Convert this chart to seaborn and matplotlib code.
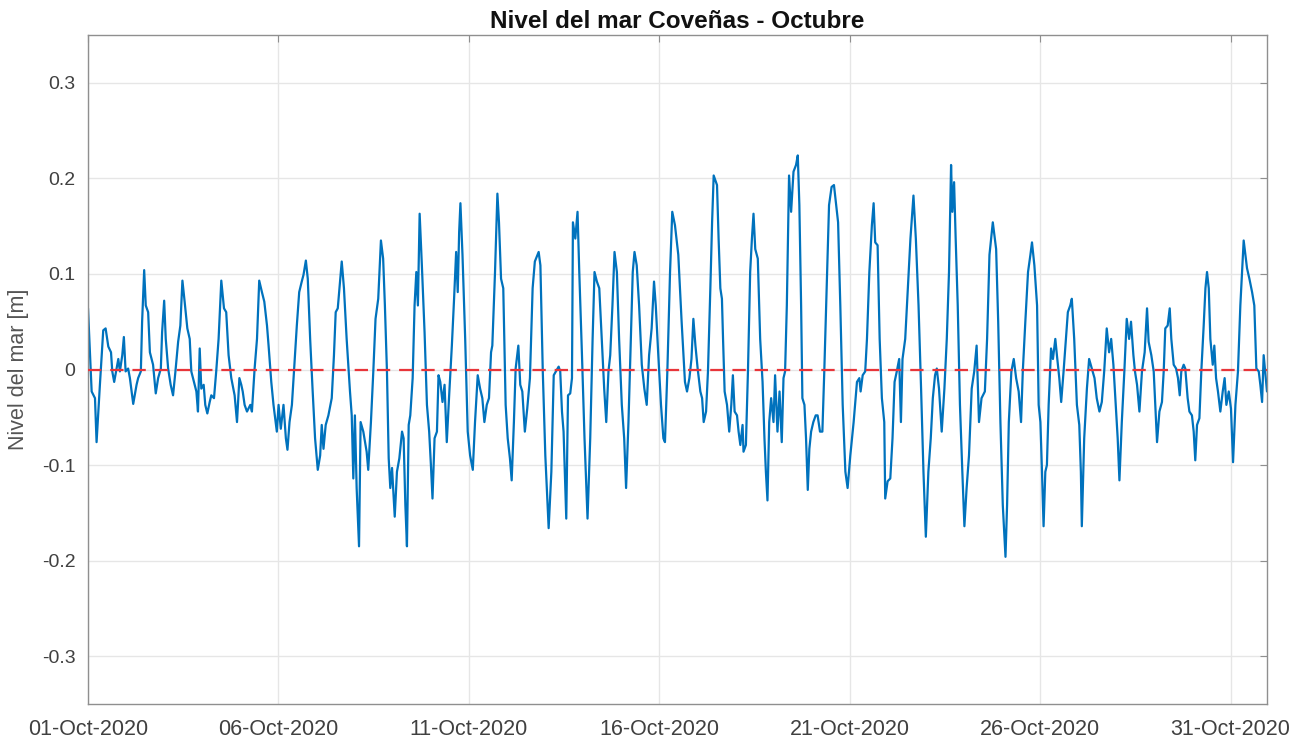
import numpy as np
import pandas as pd
import matplotlib
matplotlib.use("Agg")
import matplotlib.pyplot as plt
import matplotlib.dates as mdates
import seaborn as sns

# ---------------- data ----------------
start_date = "2020-10-01 00:00"
end_date = "2020-10-31 23:00"
tick_dates = ["2020-10-01", "2020-10-06", "2020-10-11", "2020-10-16",
              "2020-10-21", "2020-10-26", "2020-10-31"]
title_text = "Nivel del mar Coveñas - Octubre"
ylabel_text = "Nivel del mar [m]"
y_ticks = [-0.3, -0.2, -0.1, 0, 0.1, 0.2, 0.3]
y_tick_labels = ["-0.3", "-0.2", "-0.1", "0", "0.1", "0.2", "0.3"]
zero_level = 0.0

# hours since 01-Oct-2020 00:00
hours_w1 = [0.0, 2.3, 4.4, 5.4, 7.5, 9.6, 11.1, 12.8, 14.5, 15.3, 16.5, 18.0, 19.1, 20.1, 21.6,
            22.6, 23.7, 25.3, 26.4, 28.5, 30.6, 31.6, 33.3, 34.1, 35.4, 36.4, 37.9, 39.0, 41.0, 42.7,
            44.2, 45.9, 46.7, 48.0, 49.0, 50.5, 52.1, 53.6, 55.1, 56.8, 58.2, 59.5, 60.9, 62.6, 64.1,
            65.1, 66.8, 68.3, 69.3, 70.4, 71.4, 72.9, 73.9, 75.2, 76.7, 77.7, 79.4, 80.8, 82.3, 84.0,
            85.7, 87.1, 88.6, 90.3, 92.4]
level_w1 = [0.064, -0.023, -0.030, -0.076, -0.016, 0.041, 0.043, 0.024, 0.018, -0.002, -0.013, 0.001,
            0.011, -0.002, 0.015, 0.034, -0.002, 0.001, -0.009, -0.036, -0.016, -0.009, -0.002, 0.050,
            0.104, 0.067, 0.060, 0.018, 0.005, -0.025, -0.009, 0.001, 0.039, 0.072, 0.032, 0.001,
            -0.016, -0.027, -0.002, 0.029, 0.046, 0.093, 0.071, 0.043, 0.032, -0.002, -0.013, -0.023,
            -0.044, 0.022, -0.020, -0.016, -0.037, -0.046, -0.034, -0.027, -0.030, -0.002, 0.032,
            0.093, 0.064, 0.060, 0.015, -0.009, -0.027]

hours_w2 = [93.9, 95.4, 96.6, 97.5, 98.7, 100.2, 102.3, 103.3, 105.0, 106.5, 107.9, 109.6, 111.1,
            112.8, 113.8, 115.5, 116.9, 119.0, 120.1, 121.5, 123.2, 124.7, 125.7, 127.0, 128.5,
            130.1, 131.6, 133.1, 134.7, 135.8, 137.3, 138.5, 140.0, 141.5, 143.1, 144.8, 146.3,
            147.3, 148.4, 149.8, 151.5, 153.6, 155.0, 156.1, 157.4, 158.8, 159.9, 161.3, 163.0,
            165.1, 166.2, 167.2, 168.2, 169.3, 170.8, 171.8, 173.5, 175.6, 176.6, 178.3, 179.8,
            181.2, 182.9, 184.6, 186.0, 187.1]
level_w2 = [-0.055, -0.009, -0.016, -0.023, -0.037, -0.044, -0.037, -0.044, 0.001, 0.032, 0.093,
            0.081, 0.071, 0.046, 0.025, -0.013, -0.037, -0.065, -0.037, -0.062, -0.037, -0.072,
            -0.084, -0.055, -0.037, 0.005, 0.046, 0.081, 0.092, 0.099, 0.114, 0.095, 0.032, -0.020,
            -0.072, -0.105, -0.090, -0.058, -0.083, -0.058, -0.048, -0.030, 0.015, 0.060, 0.064,
            0.092, 0.113, 0.085, 0.032, -0.023, -0.048, -0.114, -0.048, -0.124, -0.185, -0.055,
            -0.065, -0.086, -0.105, -0.055, -0.002, 0.053, 0.074, 0.135, 0.116, 0.067]

hours_w3 = [188.4, 189.5, 190.5, 191.6, 193.3, 194.7, 196.2, 197.9, 198.9, 200.0, 201.0, 202.1,
            203.1, 204.6, 205.8, 206.9, 207.9, 209.0, 210.4, 212.1, 213.6, 215.0, 216.1, 217.1,
            218.4, 219.9, 220.9, 222.0, 223.4, 224.7, 226.1, 227.6, 229.3, 230.7, 232.0, 233.0,
            233.9, 234.7, 236.0, 237.7, 239.3, 240.8, 242.5, 243.9, 245.6, 247.1, 248.5, 249.8,
            251.3, 252.7, 254.0, 254.8, 256.5, 258.0, 259.0, 260.3, 261.7, 263.2, 264.5, 265.9,
            267.0, 268.4, 269.5, 271.2, 272.4, 273.7, 275.3, 276.8, 278.5, 280.2, 281.6]
level_w3 = [-0.002, -0.093, -0.124, -0.103, -0.154, -0.107, -0.093, -0.065, -0.072, -0.142, -0.185,
            -0.058, -0.048, -0.009, 0.067, 0.102, 0.067, 0.163, 0.109, 0.039, -0.037, -0.065, -0.100,
            -0.135, -0.072, -0.065, -0.006, -0.013, -0.034, -0.016, -0.076, -0.027, 0.025, 0.074,
            0.123, 0.081, 0.144, 0.174, 0.120, 0.032, -0.065, -0.090, -0.105, -0.055, -0.006,
            -0.020, -0.030, -0.055, -0.037, -0.030, 0.018, 0.025, 0.102, 0.184, 0.154, 0.095, 0.085,
            -0.037, -0.072, -0.093, -0.116, -0.055, 0.001, 0.025, -0.016, -0.023, -0.065, -0.041,
            -0.009, 0.085, 0.113]

hours_w4 = [284.0, 285.1, 286.6, 288.2, 290.3, 292.0, 293.5, 294.9, 296.6, 297.6, 298.7, 299.7,
            301.4, 302.5, 303.9, 305.0, 305.6, 307.1, 308.5, 309.6, 311.3, 312.9, 314.8, 316.5,
            318.0, 319.2, 320.7, 322.2, 323.8, 325.3, 326.6, 328.0, 329.1, 330.5, 331.8, 333.3,
            334.7, 336.4, 337.9, 339.1, 340.6, 342.1, 343.3, 344.4, 345.8, 347.3, 349.0, 350.6,
            352.1, 353.6, 355.2, 356.7, 357.8, 359.4, 361.1, 362.6, 363.6, 365.1, 366.8, 368.2,
            369.9, 372.0, 374.1, 376.2]
level_w4 = [0.123, 0.109, -0.002, -0.090, -0.166, -0.107, -0.006, -0.002, 0.003, -0.002, -0.044,
            -0.065, -0.156, -0.027, -0.025, -0.009, 0.154, 0.137, 0.165, 0.102, 0.015, -0.072,
            -0.156, -0.072, 0.032, 0.102, 0.092, 0.085, 0.032, -0.020, -0.055, -0.002, 0.015, 0.067,
            0.123, 0.102, 0.032, -0.037, -0.072, -0.124, -0.055, 0.032, 0.102, 0.123, 0.109, 0.067,
            0.005, -0.020, -0.037, 0.015, 0.043, 0.092, 0.067, 0.015, -0.037, -0.072, -0.076,
            -0.002, 0.102, 0.165, 0.151, 0.120, 0.050, -0.013]

hours_w5 = [377.5, 379.0, 380.3, 381.5, 382.8, 384.2, 385.9, 387.0, 388.0, 389.5, 390.7, 392.2,
            393.3, 394.3, 396.4, 397.4, 398.5, 399.5, 400.2, 401.2, 402.7, 404.1, 405.4, 406.4,
            407.5, 409.0, 410.0, 411.1, 412.5, 413.1, 414.6, 415.9, 417.3, 418.4, 419.4, 420.5,
            422.1, 423.6, 425.1, 426.3, 427.2, 428.2, 429.3, 430.5, 432.0, 433.0, 434.5, 435.8,
            437.2, 438.3, 439.3, 440.4, 441.8, 443.1, 444.6, 446.2, 447.3, 448.3, 449.4, 450.2,
            451.5, 452.5, 453.6, 454.6, 455.7, 457.1, 458.6, 459.8, 461.3, 462.8, 464.0, 465.5,
            467.0, 468.6, 470.1]
level_w5 = [-0.023, -0.009, 0.011, 0.053, 0.025, 0.001, -0.023, -0.030, -0.055, -0.044, -0.002,
            0.085, 0.154, 0.203, 0.193, 0.137, 0.085, 0.074, 0.032, -0.023, -0.037, -0.065, -0.037,
            -0.006, -0.044, -0.048, -0.065, -0.079, -0.058, -0.086, -0.079, -0.002, 0.102, 0.137,
            0.163, 0.126, 0.116, 0.032, -0.013, -0.072, -0.107, -0.137, -0.055, -0.030, -0.055,
            -0.006, -0.065, -0.023, -0.076, -0.009, -0.002, 0.067, 0.203, 0.165, 0.207, 0.214,
            0.224, 0.172, 0.067, -0.030, -0.037, -0.072, -0.126, -0.083, -0.065, -0.055, -0.048,
            -0.048, -0.065, -0.065, -0.002, 0.085, 0.172, 0.191, 0.193]

hours_w6 = [472.7, 474.1, 475.6, 477.3, 478.7, 480.4, 482.5, 484.6, 486.1, 486.9, 488.2, 489.8,
            490.9, 492.4, 494.0, 495.1, 496.1, 497.6, 498.9, 500.3, 501.8, 502.4, 503.9, 505.6,
            507.0, 508.3, 509.7, 511.2, 512.3, 513.3, 515.0, 516.7, 518.3, 520.2, 521.7, 523.4,
            525.0, 526.5, 528.0, 529.6, 531.1, 532.4, 533.8, 534.9, 536.3, 538.0, 539.7, 541.2,
            542.6, 543.9, 544.7, 545.8, 546.8, 548.1, 549.5, 551.0, 552.3, 553.7, 555.2, 556.9,
            558.5, 560.0, 561.5, 563.1, 565.2]
level_w6 = [0.154, 0.067, -0.037, -0.107, -0.124, -0.090, -0.055, -0.013, -0.009, -0.023, -0.006,
            -0.002, 0.032, 0.102, 0.151, 0.174, 0.133, 0.130, 0.032, -0.030, -0.055, -0.135, -0.117,
            -0.114, -0.072, -0.013, -0.002, 0.011, -0.055, 0.011, 0.032, 0.085, 0.137, 0.182, 0.137,
            0.067, -0.020, -0.107, -0.175, -0.107, -0.072, -0.030, -0.006, 0.001, -0.020, -0.065,
            -0.020, 0.032, 0.102, 0.214, 0.165, 0.196, 0.137, 0.067, -0.037, -0.107, -0.164,
            -0.124, -0.090, -0.020, -0.002, 0.025, -0.055, -0.030, -0.023]

hours_w7 = [566.6, 568.1, 570.2, 572.3, 573.6, 575.0, 576.5, 578.2, 579.2, 580.3, 581.9, 583.4,
            584.9, 586.5, 588.0, 589.1, 590.7, 592.4, 593.9, 594.9, 596.4, 598.1, 599.1, 600.2,
            601.2, 602.2, 603.3, 604.3, 605.4, 606.9, 608.1, 609.6, 610.6, 612.1, 613.3, 614.8,
            616.3, 617.5, 619.0, 620.0, 621.5, 623.2, 624.7, 625.7, 626.3, 627.8, 629.5, 630.9,
            632.6, 634.3, 635.7, 637.4, 638.9, 640.4, 642.0, 643.5, 644.8, 646.2, 647.7, 648.9,
            650.0, 651.5, 653.1, 654.6, 656.1, 657.3, 658.8, 659.8]
level_w7 = [0.032, 0.120, 0.154, 0.126, 0.050, -0.055, -0.142, -0.196, -0.142, -0.055, -0.002,
            0.011, -0.009, -0.023, -0.055, -0.002, 0.050, 0.102, 0.120, 0.133, 0.109, 0.067, -0.037,
            -0.055, -0.107, -0.164, -0.107, -0.100, -0.037, 0.022, 0.011, 0.032, 0.015, -0.009,
            -0.034, -0.002, 0.032, 0.060, 0.067, 0.074, 0.032, -0.037, -0.058, -0.107, -0.164,
            -0.072, -0.020, 0.011, 0.001, -0.009, -0.030, -0.044, -0.034, -0.002, 0.043, 0.018,
            0.032, 0.005, -0.037, -0.072, -0.116, -0.055, -0.002, 0.053, 0.032, 0.050, 0.015, -0.002]

hours_w8 = [661.1, 662.6, 664.2, 665.9, 667.4, 668.4, 670.1, 671.6, 672.6, 673.7, 675.2, 676.8,
            677.9, 678.9, 680.4, 681.7, 682.7, 684.2, 685.7, 686.9, 688.0, 689.0, 690.5, 691.5,
            693.0, 694.1, 695.7, 696.8, 697.8, 698.9, 700.4, 701.6, 703.1, 704.2, 705.2, 706.3,
            707.3, 708.8, 709.8, 710.9, 712.1, 713.6, 715.1, 716.3, 717.4, 718.9, 720.3, 721.6,
            723.1, 724.7, 726.2, 727.3, 728.3, 729.4, 730.4, 731.9, 733.6, 735.0, 736.3, 737.8,
            738.8, 739.9, 740.9, 743.0]
level_w8 = [-0.016, -0.044, -0.002, 0.018, 0.064, 0.029, 0.015, -0.002, -0.037, -0.076, -0.044,
            -0.034, -0.002, 0.043, 0.046, 0.064, 0.032, 0.005, 0.001, -0.009, -0.027, -0.002, 0.005,
            0.001, -0.030, -0.044, -0.048, -0.065, -0.095, -0.058, -0.051, -0.002, 0.046, 0.085,
            0.102, 0.085, 0.032, 0.005, 0.025, -0.009, -0.023, -0.044, -0.023, -0.009, -0.037,
            -0.023, -0.041, -0.097, -0.037, -0.002, 0.067, 0.102, 0.135, 0.120, 0.106, 0.095, 0.081,
            0.067, 0.001, -0.002, -0.016, -0.034, 0.015, -0.023]

# ---------------- build table ----------------
hours = hours_w1 + hours_w2 + hours_w3 + hours_w4 + hours_w5 + hours_w6 + hours_w7 + hours_w8
level = level_w1 + level_w2 + level_w3 + level_w4 + level_w5 + level_w6 + level_w7 + level_w8
df = pd.DataFrame({
    "time": pd.Timestamp(start_date) + pd.to_timedelta(hours, unit="h"),
    "nivel": level,
})

# ---------------- style ----------------
sns.set_theme(style="white")
plt.rcParams["font.family"] = ["Liberation Sans", "DejaVu Sans"]

axis_gray = "#8f8f8f"
text_gray = "#404040"

fig = plt.figure(figsize=(13.04, 7.43), dpi=100)
ax = fig.add_axes([88 / 1304, 39 / 743, (1267 - 88) / 1304, (704 - 35) / 743])

sns.lineplot(data=df, x="time", y="nivel", ax=ax, color="#0072BD", linewidth=1.6,
             estimator=None, sort=False)
ax.axhline(zero_level, color="#E8353A", linestyle=(0, (6, 4)), linewidth=1.6, zorder=3)

ax.set_xlim(pd.Timestamp(start_date), pd.Timestamp(end_date))
ax.set_ylim(-0.35, 0.35)
ax.set_xticks(pd.to_datetime(tick_dates))
ax.xaxis.set_major_formatter(mdates.DateFormatter("%d-%b-%Y"))
ax.set_yticks(y_ticks)
ax.set_yticklabels(y_tick_labels)

ax.grid(True, color="#e6e6e6", linewidth=1.0)
ax.set_axisbelow(True)
for s in ax.spines.values():
    s.set_color(axis_gray)
    s.set_linewidth(1.0)
ax.tick_params(axis="both", which="major", direction="in", length=5, width=0.8,
               color=axis_gray, labelcolor=text_gray, top=True, right=True)
ax.tick_params(axis="x", labelsize=15.5, pad=11)
ax.tick_params(axis="y", labelsize=14, pad=9)

ax.set_xlabel("")
ax.set_ylabel(ylabel_text, fontsize=15.5, color="#555555", labelpad=9)
ax.set_title(title_text, fontsize=17.5, fontweight="bold", color="#111111", pad=5)

fig.savefig("out.png", dpi=100)
